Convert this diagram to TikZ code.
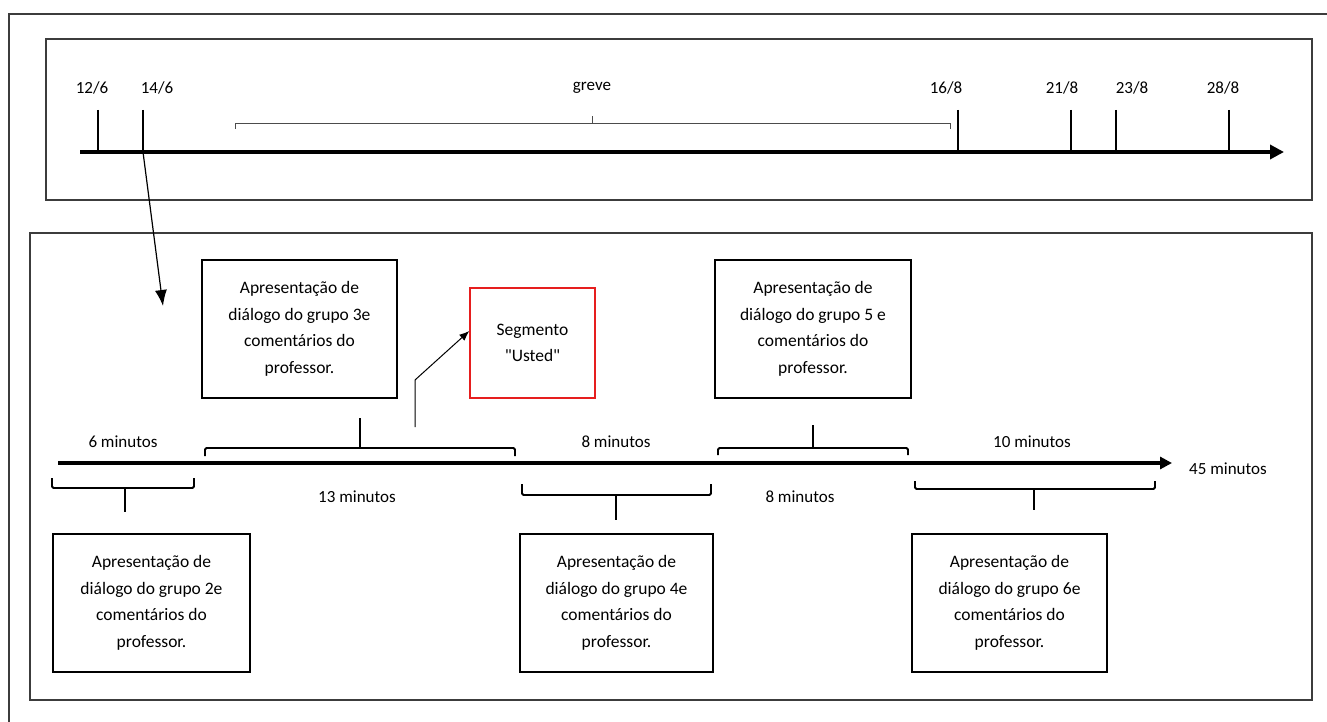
\documentclass[tikz,border=0pt]{standalone}
\usepackage{fontspec}
\setmainfont{Carlito}
\usetikzlibrary{arrows.meta}
\definecolor{moldura}{RGB}{60,60,60}
\definecolor{vermelho}{RGB}{230,30,30}
\tikzset{
  caixa/.style={draw,line width=1.5pt,align=center,inner sep=0pt,
    minimum width=195pt,minimum height=138pt,font=\fontsize{17.5}{26.5}\selectfont},
  rotulo/.style={font=\fontsize{17}{18}\selectfont,inner sep=0pt},
  chave/.style={line width=1.8pt,rounded corners=1.5pt}
}

\begin{document}
\begin{tikzpicture}[x=1pt,y=-1pt]
\useasboundingbox (0,0) rectangle (1327,722);
% molduras
\draw [line width=2pt,moldura] (9,722)--(9,14)--(1327,14);
\draw [line width=2pt,moldura] (46,39) rectangle (1312,200);
\draw [line width=2pt,moldura] (30,233) rectangle (1312,700);
% linha do tempo de cima
\coordinate (t0) at (80,152);
\coordinate (t1) at (1284,152);
\draw [line width=3.5pt,-{Triangle[length=14pt,width=14pt]}] (t0)--(t1);
\foreach \x/\lx/\d in {98/92/12\slash 6,143/157/14\slash 6,958/946/16\slash 8,1071/1062/21\slash 8,1116/1132/23\slash 8,1229/1223/28\slash 8}{
  \draw [line width=2pt] (\x,110)--(\x,152);
  \node [rotulo] at (\lx,88) {\d};
}
\coordinate (c14) at (143,152);
\node [rotulo] (greve) at (592,88) {greve};
\draw [gray!60!black,line width=1pt] (235,129)--(235,124)--(950,124)--(950,129);
\draw [gray!60!black,line width=1pt] (592,124)--(592,116);
\coordinate (seta) at (163,306);
\draw [line width=1.2pt,-{Latex[length=16pt,width=12pt]}] (c14)--(seta);
% linha do tempo de baixo
\coordinate (m0) at (58,463);
\coordinate (m1) at (1172,463);
\draw [line width=3.5pt,-{Triangle[length=12pt,width=12pt]}] (m0)--(m1);
\node [rotulo] (fim) at (1228,469) {45 minutos};
\node [rotulo] (min6) at (123,442) {6 minutos};
\node [rotulo] (min13) at (357,497) {13 minutos};
\node [rotulo] (min8a) at (616,442) {8 minutos};
\node [rotulo] (min8b) at (800,497) {8 minutos};
\node [rotulo] (min10) at (1032,442) {10 minutos};
% chaves
\draw [chave] (205,456)--(205,448)--(515,448)--(515,456);
\draw [chave] (360,448)--(360,418);
\draw [chave] (718,455)--(718,448)--(908,448)--(908,455);
\draw [chave] (813,448)--(813,425);
\draw [chave] (52,478)--(52,488)--(194,488)--(194,478);
\draw [chave] (125,488)--(125,512);
\draw [chave] (522,484)--(522,495)--(711,495)--(711,484);
\draw [chave] (616,495)--(616,520);
\draw [chave] (915,481)--(915,489)--(1155,489)--(1155,481);
\draw [chave] (1034,489)--(1034,510);
% caixas
\node [caixa] (g3) at (299.5,329) {Apresentação de\\diálogo do grupo 3e\\comentários do\\professor.};
\node [caixa,minimum width=196pt] (g5) at (813,329) {Apresentação de\\diálogo do grupo 5 e\\comentários do\\professor.};
\node [caixa,minimum width=197pt] (g2) at (151.5,603) {Apresentação de\\diálogo do grupo 2e\\comentários do\\professor.};
\node [caixa,minimum width=193pt] (g4) at (616.5,603) {Apresentação de\\diálogo do grupo 4e\\comentários do\\professor.};
\node [caixa] (g6) at (1009.5,603) {Apresentação de\\diálogo do grupo 6e\\comentários do\\professor.};
\node [caixa,draw=vermelho,minimum width=125pt,minimum height=110pt] (seg) at (532.5,343) {Segmento\\\textquotedbl Usted\textquotedbl};
\coordinate (quebra) at (415,380);
\draw [line width=1pt,-{Latex[length=10pt,width=8pt]}] (415,427)--(quebra)--([yshift=12pt]seg.west);
\end{tikzpicture}
\end{document}
